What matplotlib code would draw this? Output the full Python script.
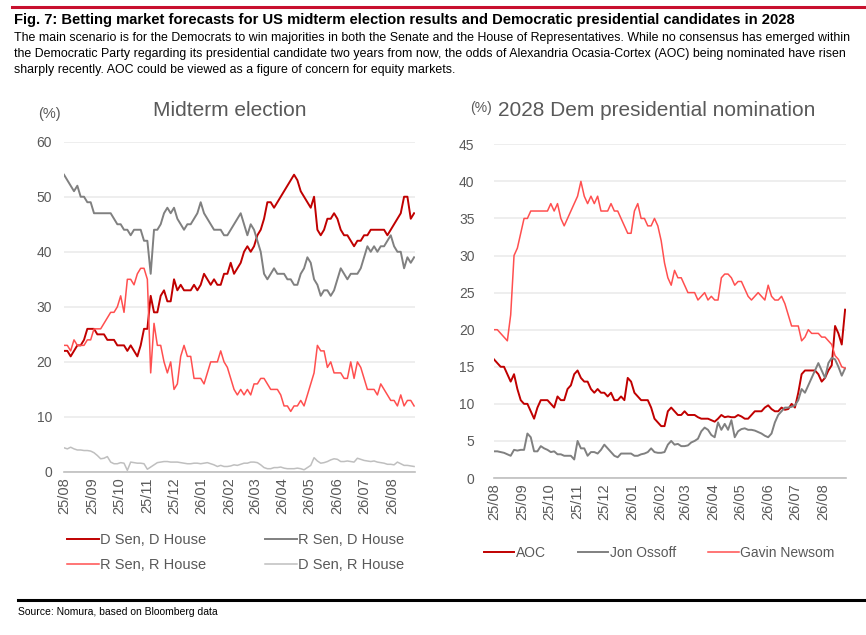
import numpy as np
import pandas as pd
import matplotlib
matplotlib.use("Agg")
import matplotlib.pyplot as plt
from matplotlib.lines import Line2D

plt.rcParams['font.family'] = ['Liberation Sans', 'DejaVu Sans']

# --- Data (roughly 3.7 days apart) ---
START = '2025-08-01'
END = '2026-08-25'

d_sen_d_house = [22, 22, 21, 22, 23, 23, 24, 26, 26, 26, 25, 25, 25, 24, 24, 24, 23, 23, 23, 22,
                 23, 22, 21, 23, 26, 26, 32, 29, 29, 32, 33, 31, 31, 35, 33, 34, 33, 33, 33, 34,
                 33, 34, 36, 35, 34, 35, 34, 34, 36, 36, 38, 36, 37, 38, 40, 41, 40, 41, 43, 44,
                 46, 49, 49, 48, 49, 50, 51, 52, 53, 54, 53, 51, 50, 49, 48, 50, 44, 43, 44, 46,
                 46, 47, 46, 44, 43, 43, 42, 41, 42, 42, 43, 43, 44, 44, 44, 44, 44, 43, 44, 45,
                 46, 47, 50, 50, 46, 47]
r_sen_d_house = [54, 53, 52, 51, 52, 50, 50, 49, 49, 47, 47, 47, 47, 47, 47, 46, 45, 45, 44, 44,
                 43, 44, 44, 44, 42, 42, 36, 44, 44, 45, 47, 48, 47, 48, 46, 45, 44, 45, 45, 46,
                 47, 49, 47, 46, 45, 44, 44, 44, 43, 43, 44, 45, 46, 47, 45, 43, 45, 44, 42, 40,
                 36, 35, 36, 37, 36, 36, 36, 35, 35, 34, 34, 36, 37, 39, 38, 35, 34, 32, 33, 33,
                 32, 33, 35, 37, 36, 35, 36, 36, 36, 37, 39, 41, 40, 41, 40, 41, 41, 42, 43, 41,
                 40, 40, 37, 39, 38, 39]
r_sen_r_house = [23, 23, 22, 24, 23, 23, 23, 24, 24, 26, 26, 26, 27, 28, 29, 29, 30, 32, 29, 35,
                 35, 34, 36, 37, 37, 35, 18, 27, 23, 23, 20, 18, 20, 15, 16, 21, 23, 21, 21, 17,
                 17, 17, 16, 18, 20, 20, 20, 22, 20, 19, 17, 15, 14, 15, 14, 15, 14, 16, 16, 17,
                 17, 16, 15, 15, 15, 14, 12, 12, 11, 12, 12, 13, 12, 14, 16, 18, 23, 22, 22, 19,
                 20, 18, 18, 18, 17, 17, 20, 17, 20, 19, 17, 15, 15, 15, 14, 16, 15, 14, 13, 13,
                 12, 14, 12, 13, 13, 12]
d_sen_r_house = [4.4, 4.2, 4.5, 4.2, 4.0, 4.0, 3.9, 3.9, 3.8, 3.5, 3.0, 2.4, 2.5, 2.8, 1.8, 1.5,
                 1.5, 1.7, 1.6, 0.3, 1.8, 1.7, 1.6, 1.6, 1.5, 0.5, 0.9, 1.3, 1.7, 1.8, 1.9, 1.9,
                 1.8, 1.8, 1.8, 1.7, 1.6, 1.5, 1.5, 1.6, 1.6, 1.5, 1.6, 1.7, 1.5, 1.3, 1.0, 1.2,
                 1.0, 1.0, 1.1, 1.3, 1.2, 1.4, 1.6, 1.6, 1.8, 1.8, 1.7, 1.3, 0.8, 0.6, 0.6, 0.8,
                 0.8, 0.9, 0.7, 0.6, 0.6, 0.6, 0.7, 0.6, 0.4, 0.8, 1.2, 2.6, 2.0, 1.6, 1.7, 1.9,
                 2.2, 2.4, 2.3, 1.9, 1.9, 2.0, 1.9, 1.8, 2.5, 2.3, 2.1, 2.0, 1.9, 2.0, 1.8, 1.7,
                 1.6, 1.4, 1.4, 1.3, 1.8, 1.5, 1.2, 1.2, 1.1, 1.0]

aoc = [16, 15.5, 15, 15, 14, 13, 14, 12, 10.5, 10, 10, 9, 8, 9.5, 10.5, 10.5, 10.5, 10, 9.5, 11,
       10.5, 10.5, 12, 12.5, 14, 14.5, 13.5, 13, 13, 12, 11.5, 12, 11.5, 11.5, 11, 11.5, 10.5, 10.5,
       11, 10.5, 13.5, 13, 11.5, 11, 10.5, 10.5, 10.5, 9.5, 8, 7.5, 7, 7, 9, 9.5, 9, 8.5, 8.5, 9,
       8.5, 8.5, 8.5, 8.2, 8, 8, 8, 7.8, 7.6, 8, 8.5, 8.2, 8.3, 8.2, 8.2, 8.5, 8.3, 8, 8, 8.5, 9,
       9, 9, 9.5, 9.8, 9.3, 9, 9, 9.5, 9.2, 9.3, 10, 9.5, 11.5, 14, 14.5, 14.5, 14.5, 14.5, 14, 13,
       13.5, 14.5, 15.2, 20.5, 19.5, 18, 22.7]
ossoff = [3.6, 3.6, 3.5, 3.4, 3.2, 3.0, 3.8, 3.7, 3.8, 3.8, 6.0, 5.5, 3.6, 3.6, 4.3, 4.0, 3.8,
          3.5, 3.6, 3.2, 3.2, 3.0, 3.0, 3.0, 2.5, 5.0, 4.0, 4.0, 3.0, 3.5, 3.5, 3.3, 3.8, 4.5, 4.0,
          3.5, 3.0, 2.8, 3.3, 3.3, 3.3, 3.3, 3.0, 3.0, 3.2, 3.3, 3.5, 4.0, 3.5, 3.4, 3.4, 3.5, 4.5,
          5.0, 4.5, 4.6, 4.3, 4.3, 4.4, 4.8, 5.0, 5.3, 6.3, 6.8, 6.5, 5.8, 5.5, 7.5, 6.5, 7.3, 6.5,
          7.8, 5.5, 6.3, 6.6, 6.7, 6.5, 6.5, 6.4, 6.2, 6.0, 5.7, 5.5, 6.0, 7.5, 8.5, 9.0, 9.5, 9.5,
          9.6, 9.8, 10.5, 12.0, 11.5, 12.5, 13.5, 14.5, 15.5, 14.5, 13.5, 15.5, 16.2, 16.0, 15.0,
          13.8, 14.8]
newsom = [20, 20, 19.5, 19, 18.5, 22, 30, 31, 33, 35, 35, 36, 36, 36, 36, 36, 36, 37, 36, 37,
          35, 34, 35, 36, 37, 38, 40, 38, 37, 38, 37, 38, 36, 36, 36, 37, 36, 36, 35, 34, 33, 33,
          36, 37, 35, 35, 34, 34, 35, 34, 32, 29, 27, 26, 28, 27, 27, 26, 25, 25, 25, 24, 24.5,
          25, 24, 24.5, 24, 24, 27, 27.5, 27.5, 27, 26, 26.5, 26.5, 25.5, 24.5, 24, 24.5, 25, 24.5,
          24, 26, 24.5, 24, 24, 24.5, 23.5, 22, 20.5, 20.5, 20.5, 18.5, 19, 20, 19.5, 19.5, 19.5,
          19, 19, 18.5, 18, 16.5, 16, 15, 14.8]

month_labels = ['25/08', '25/09', '25/10', '25/11', '25/12', '26/01', '26/02',
                '26/03', '26/04', '26/05', '26/06', '26/07', '26/08']

left_series = [
    ('D Sen, D House', d_sen_d_house, '#c00000', 1.4),
    ('R Sen, D House', r_sen_d_house, '#808080', 1.4),
    ('R Sen, R House', r_sen_r_house, '#ff4f4f', 1.1),
    ('D Sen, R House', d_sen_r_house, '#bfbfbf', 1.1),
]
right_series = [
    ('AOC', aoc, '#c00000', 1.4),
    ('Jon Ossoff', ossoff, '#808080', 1.4),
    ('Gavin Newsom', newsom, '#ff4f4f', 1.1),
]

TXT = '#595959'


def style_axis(ax, ymax, ystep, ypad):
    ax.set_xlim(pd.Timestamp('2025-08-01'), pd.Timestamp('2026-08-26'))
    ax.set_ylim(0, ymax)
    ax.set_yticks(np.arange(0, ymax + 1, ystep))
    ticks = pd.date_range('2025-08-01', periods=13, freq='MS')
    ax.set_xticks(ticks)
    ax.set_xticklabels(month_labels, rotation=90, fontsize=10.5, color=TXT)
    ax.tick_params(axis='y', labelsize=10, colors=TXT, length=0, pad=ypad)
    ax.tick_params(axis='x', length=0, pad=4)
    for s in ['top', 'right', 'left']:
        ax.spines[s].set_visible(False)
    ax.spines['bottom'].set_color('#bfbfbf')
    ax.spines['bottom'].set_linewidth(1.2)
    ax.grid(axis='y', color='#ebebeb', linewidth=1.2)
    ax.set_axisbelow(True)


fig = plt.figure(figsize=(8.66, 6.35), dpi=100)

# --- Left panel ---
ax1 = fig.add_axes([0.0739, 0.2567, 0.4053, 0.5202])
for name, vals, col, lw in left_series:
    ax1.plot(pd.date_range(START, END, periods=len(vals)), vals, color=col, lw=lw, label=name)
style_axis(ax1, 60, 10, 8.5)

h = {l.get_label(): l for l in ax1.get_lines()}
order = ['D Sen, D House', 'R Sen, R House', 'R Sen, D House', 'D Sen, R House']
ax1.legend([h[k] for k in order], order, ncol=2, frameon=False, fontsize=10.5,
           loc='upper left', bbox_to_anchor=(-0.03, -0.145), handlelength=2.2,
           handletextpad=0.1, columnspacing=4.0, labelspacing=0.75, labelcolor=TXT)

# --- Right panel ---
ax2 = fig.add_axes([0.5704, 0.2472, 0.4065, 0.5256])
for name, vals, col, lw in right_series:
    ax2.plot(pd.date_range(START, END, periods=len(vals)), vals, color=col, lw=lw, label=name)
style_axis(ax2, 45, 5, 14)
ax2.legend(ncol=3, frameon=False, fontsize=10, loc='upper left',
           bbox_to_anchor=(-0.064, -0.165), handlelength=2.2, handletextpad=0.1,
           columnspacing=2.3, labelcolor=TXT)

# --- Titles and header ---
fig.text(38 / 866, 1 - 114 / 635, '(%)', fontsize=10.5, color=TXT, va='center')
fig.text(153 / 866, 1 - 110 / 635, 'Midterm election', fontsize=15, color=TXT, va='center')
fig.text(470 / 866, 1 - 108 / 635, '(%)', fontsize=10, color=TXT, va='center')
fig.text(498 / 866, 1 - 110 / 635, '2028 Dem presidential nomination', fontsize=15, color=TXT,
         va='center')

fig.add_artist(Line2D([12 / 866, 1], [1 - 7 / 635] * 2, color='#c8102e', lw=2.2))
fig.text(14 / 866, 1 - 20 / 635,
         'Fig. 7: Betting market forecasts for US midterm election results and Democratic '
         'presidential candidates in 2028', fontsize=10.6, fontweight='bold', va='center')
body_lines = [
    'The main scenario is for the Democrats to win majorities in both the Senate and the '
    'House of Representatives. While no consensus has emerged within',
    'the Democratic Party regarding its presidential candidate two years from now, the odds '
    'of Alexandria Ocasia-Cortex (AOC) being nominated have risen',
    'sharply recently. AOC could be viewed as a figure of concern for equity markets.',
]
for k, line in enumerate(body_lines):
    fig.text(14 / 866, 1 - (38.5 + 15.5 * k) / 635, line, fontsize=8.9, va='center')

fig.add_artist(Line2D([18 / 866, 1], [1 - 600 / 635] * 2, color='black', lw=2.2))
fig.text(18 / 866, 1 - 612 / 635, 'Source: Nomura, based on Bloomberg data', fontsize=7.5,
         va='center')

fig.savefig('out.png', dpi=100)
